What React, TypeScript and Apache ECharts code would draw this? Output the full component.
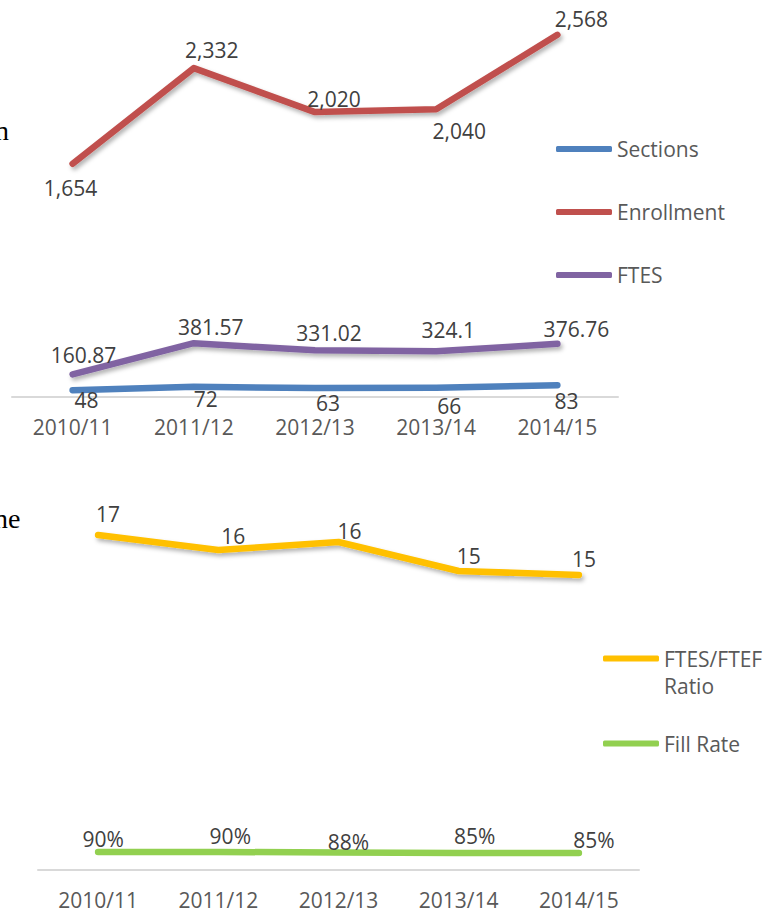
import React, { useEffect, useRef } from "react";
import * as echarts from "echarts";

// ---- data ----
const YEARS = ["2010/11", "2011/12", "2012/13", "2013/14", "2014/15"];
const SECTIONS = [48, 72, 63, 66, 83];
const ENROLLMENT = [1654, 2332, 2020, 2040, 2568];
const FTES = [160.87, 381.57, 331.02, 324.1, 376.76];
const RATIO = [16.75, 16.0, 16.4, 14.95, 14.75];
const FILL_RATE = [0.9, 0.9, 0.88, 0.85, 0.85];

// ---- label placement (style only) ----
const ENR_POS = ["bottom", "top", "top", "bottom", "top"];
const ENR_OFF = [[-2, 9], [18, -3], [19, 2], [23, 6], [24, 0]];
const FTES_OFF = [[11, -4], [17, -1], [14, -2], [12, -6], [19, 1]];
const SEC_OFF = [[14, -6], [12, -3], [13, -1], [13, 3], [9, 0]];
const RATIO_OFF = [[10, -5], [15, 2], [11, 5], [10, 1], [5, 0]];
const FILL_OFF = [[5, 3], [12, 0], [10, 5], [16, -1], [15, 3]];

const FONT = "Open Sans";
const LABEL_COLOR = "#404040";
const AXIS_TEXT = "#595959";

const shadow = {
  shadowColor: "rgba(0,0,0,0.3)",
  shadowBlur: 4,
  shadowOffsetX: 2,
  shadowOffsetY: 3,
};

function makeData(values: number[], offs: number[][], pos?: string[], fmt?: (v: number) => string) {
  return values.map((v, i) => ({
    value: v,
    label: {
      position: pos ? pos[i] : undefined,
      offset: offs[i],
      formatter: fmt ? fmt(v) : undefined,
    },
  }));
}

function lineSeries(name: string, color: string, data: any[], gridIndex: number, pos: string, withShadow: boolean) {
  return {
    type: "line",
    name,
    xAxisIndex: gridIndex,
    yAxisIndex: gridIndex,
    data,
    symbol: "circle",
    symbolSize: 0.1,
    showSymbol: true,
    clip: false,
    itemStyle: { color },
    lineStyle: { color, width: 6.5, cap: "round", join: "round", ...(withShadow ? shadow : {}) },
    label: {
      show: true,
      position: pos,
      distance: 5,
      fontFamily: FONT,
      fontSize: 21,
      color: LABEL_COLOR,
    },
    emphasis: { disabled: true },
  };
}

export default function App() {
  const ref = useRef<HTMLDivElement>(null);

  useEffect(() => {
    if (!ref.current) return;
    const chart = echarts.init(ref.current, undefined, { renderer: "svg" });
    const fmtInt = (v: number) => v.toLocaleString("en-US");
    const option: any = {
      animation: false,
      backgroundColor: "#ffffff",
      textStyle: { fontFamily: FONT },
      grid: [
        { left: 12, right: 162, top: 0, bottom: 516, containLabel: false },
        { left: 38, right: 141, top: 470, bottom: 43, containLabel: false },
      ],
      xAxis: [0, 1].map((g) => ({
        type: "category",
        gridIndex: g,
        data: YEARS,
        boundaryGap: true,
        axisLine: { show: true, lineStyle: { color: "#D9D9D9", width: 2 } },
        axisTick: { show: false },
        splitLine: { show: false },
        axisLabel: {
          fontFamily: FONT,
          fontSize: 21,
          color: AXIS_TEXT,
          margin: 19,
          interval: 0,
        },
      })),
      yAxis: [
        { type: "value", gridIndex: 0, min: 0, max: 2815, show: false, splitLine: { show: false } },
        { type: "value", gridIndex: 1, min: 0, max: 20, show: false, splitLine: { show: false } },
      ],
      legend: [
        {
          data: ["Sections", "Enrollment", "FTES"],
          orient: "vertical",
          left: 556,
          top: 137,
          padding: 0,
          itemWidth: 56,
          itemHeight: 6,
          itemGap: 39,
          icon: "roundRect",
          textStyle: { fontFamily: FONT, fontSize: 21, color: AXIS_TEXT, lineHeight: 24 },
          selectedMode: false,
        },
        {
          data: ["FTES/FTEF Ratio"],
          orient: "vertical",
          left: 603,
          top: 618,
          padding: 0,
          itemWidth: 56,
          itemHeight: 6,
          icon: "roundRect",
          // blank first line keeps "FTES/FTEF" level with the icon and "Ratio" below
          formatter: () => " \nFTES/FTEF\nRatio",
          textStyle: {
            fontFamily: FONT,
            fontSize: 21,
            color: AXIS_TEXT,
            lineHeight: 27,
          },
          selectedMode: false,
        },
        {
          data: ["Fill Rate"],
          orient: "vertical",
          left: 603,
          top: 730,
          padding: 0,
          itemWidth: 56,
          itemHeight: 6,
          icon: "roundRect",
          textStyle: { fontFamily: FONT, fontSize: 21, color: AXIS_TEXT, lineHeight: 27 },
          selectedMode: false,
        },
      ],
      series: [
        lineSeries("Sections", "#4F81BD", makeData(SECTIONS, SEC_OFF), 0, "bottom", false),
        lineSeries("Enrollment", "#C0504D", makeData(ENROLLMENT, ENR_OFF, ENR_POS, fmtInt), 0, "top", true),
        lineSeries("FTES", "#8064A2", makeData(FTES, FTES_OFF), 0, "top", true),
        lineSeries("FTES/FTEF Ratio", "#FFC000", makeData(RATIO, RATIO_OFF, undefined, (v) => String(Math.round(v))), 1, "top", true),
        lineSeries("Fill Rate", "#92D050", makeData(FILL_RATE, FILL_OFF, undefined, (v) => Math.round(v * 100) + "%"), 1, "top", false),
      ],
      graphic: [
        {
          type: "text",
          left: -5,
          top: 116,
          style: { text: "n", font: "28px 'Liberation Serif'", fill: "#000000" },
        },
        {
          type: "text",
          left: -6,
          top: 504,
          style: { text: "ne", font: "28px 'Liberation Serif'", fill: "#000000" },
        },
      ],
    };
    chart.setOption(option);
    return () => chart.dispose();
  }, []);

  return (
    <div
      ref={ref}
      style={{ position: "fixed", left: 0, top: 0, width: 780, height: 913 }}
    />
  );
}
